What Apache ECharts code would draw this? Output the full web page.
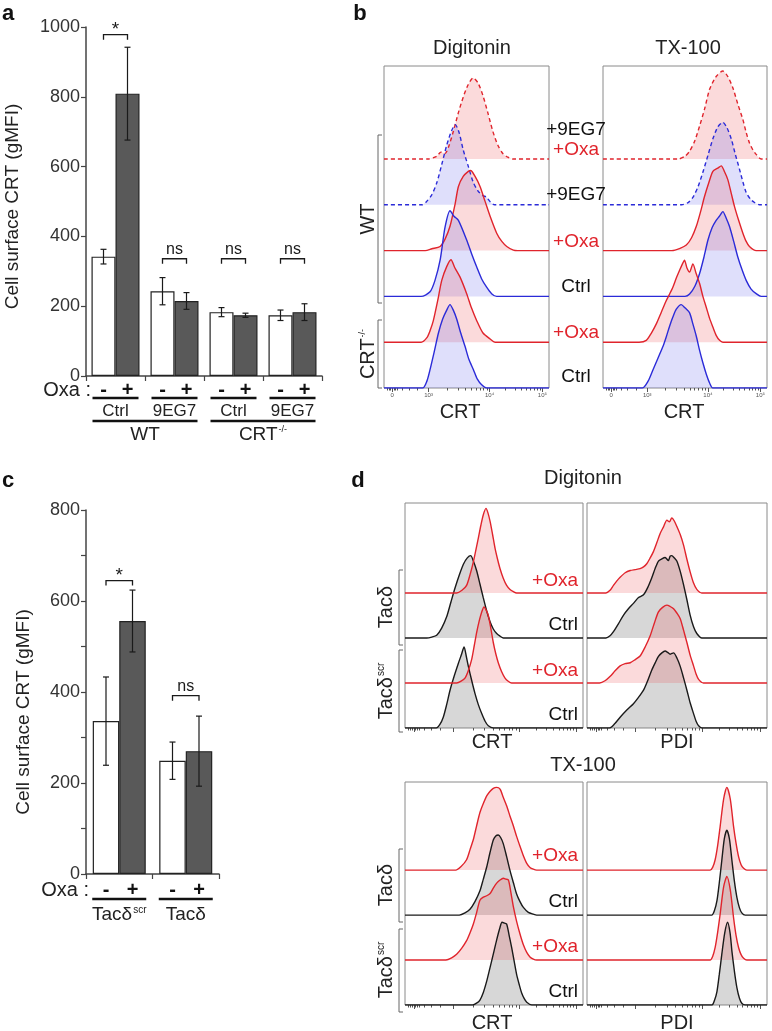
<!DOCTYPE html>
<html><head><meta charset="utf-8">
<script src="https://cdn.jsdelivr.net/npm/echarts@6/dist/echarts.min.js"></script>
<style>html,body{margin:0;padding:0;background:#fff}#c{width:772px;height:1031px}</style>
</head><body><div id="c"></div>
<script>
// ================= DATA =================
// Panel a : Cell surface CRT (gMFI)
const aGroups = ['Ctrl', '9EG7', 'Ctrl', '9EG7'];
const aGenotypes = ['WT', 'CRT-/-'];
const aGenotypeSpans = [[0, 1], [2, 3]];
const aOxaNeg = [342, 243, 183, 174];
const aOxaNegErr = [21, 39, 13, 15];
const aOxaPos = [809, 215, 174, 183];
const aOxaPosErr = [133, 24, 6, 24];
const aSigLabels = ['*', 'ns', 'ns', 'ns'];
const aSigLevels = [978, 336, 336, 336];

// Panel c
const cGroups = ['Tacδscr', 'Tacδ'];
const cOxaNeg = [336, 249];
const cOxaNegErr = [97, 41];
const cOxaPos = [556, 270];
const cOxaPosErr = [68, 77];
const cSigLabels = ['*', 'ns'];
const cSigLevels = [645, 392];

// Flow axis ticks (biexponential channel scale 0..1000)
const fcsMajorTicks = [50, 270, 640, 960];
const fcsTickLabels = ['0', '10³', '10⁴', '10⁵'];
const fcsMinorTicks = [20, 30, 40, 60, 70, 80, 110, 150, 200, 381, 447, 493, 529, 558, 583, 604, 623, 736, 793, 833, 864, 889, 910, 929, 945];

// Panel b histograms: [channel, height in lane units]
const bDig_WT9EG7_Oxa = [[0,0],[270,0],[320,0.06],[345,0.15],[370,0.12],[390,0.25],[420,0.6],[450,1.0],[480,1.35],[510,1.62],[540,1.77],[570,1.66],[600,1.38],[630,1.0],[660,0.6],[690,0.3],[720,0.12],[750,0.04],[780,0],[1000,0]];
const bDig_WT9EG7_Ctrl = [[0,0],[230,0],[260,0.08],[290,0.22],[320,0.48],[350,0.88],[380,1.3],[410,1.62],[432,1.75],[455,1.58],[480,1.2],[510,0.85],[540,0.5],[570,0.3],[600,0.2],[620,0.17],[645,0.06],[670,0],[1000,0]];
const bDig_WT_Oxa = [[0,0],[250,0],[290,0.04],[340,0.09],[370,0.25],[400,0.53],[430,1.0],[451,1.4],[480,1.62],[511,1.73],[525,1.75],[552,1.62],[582,1.4],[612,1.08],[643,0.75],[683,0.38],[714,0.2],[744,0.09],[784,0.01],[810,0],[1000,0]];
const bDig_WT_Ctrl = [[0,0],[225,0],[279,0.1],[309,0.35],[340,0.79],[370,1.51],[400,1.87],[424,1.75],[451,1.66],[501,1.23],[532,0.92],[562,0.64],[592,0.38],[622,0.2],[652,0.06],[683,0],[1000,0]];
const bDig_KO_Oxa = [[0,0],[225,0],[260,0.1],[279,0.25],[299,0.47],[325,0.9],[350,1.35],[380,1.65],[406,1.8],[430,1.62],[461,1.42],[501,1.06],[530,0.75],[562,0.47],[600,0.2],[643,0.07],[673,0],[1000,0]];
const bDig_KO_Ctrl = [[0,0],[235,0],[260,0.15],[279,0.4],[305,0.8],[330,1.2],[355,1.5],[380,1.7],[400,1.82],[420,1.7],[441,1.5],[465,1.2],[491,0.91],[515,0.62],[542,0.4],[565,0.2],[592,0.07],[622,0],[1000,0]];

const bTX_WT9EG7_Oxa = [[0,0],[460,0],[500,0.06],[528,0.17],[560,0.4],[589,0.72],[620,1.1],[650,1.52],[690,1.8],[731,1.92],[761,1.8],[792,1.55],[822,1.2],[853,0.86],[873,0.58],[893,0.35],[914,0.2],[934,0.1],[964,0],[1000,0]];
const bTX_WT9EG7_Ctrl = [[0,0],[480,0],[520,0.05],[548,0.16],[580,0.4],[609,0.71],[640,1.08],[670,1.44],[700,1.7],[731,1.8],[756,1.68],[782,1.44],[807,1.1],[832,0.78],[853,0.5],[873,0.27],[900,0.12],[924,0.05],[954,0],[1000,0]];
const bTX_WT_Oxa = [[0,0],[420,0],[470,0.05],[508,0.12],[540,0.28],[569,0.53],[595,0.85],[619,1.18],[645,1.48],[670,1.73],[700,1.8],[721,1.85],[741,1.72],[761,1.55],[782,1.25],[802,0.96],[828,0.65],[853,0.38],[873,0.2],[893,0.09],[934,0],[1000,0]];
const bTX_WT_Ctrl = [[0,0],[500,0],[528,0.05],[560,0.22],[589,0.5],[615,0.85],[640,1.23],[665,1.5],[690,1.66],[710,1.75],[731,1.85],[752,1.7],[772,1.52],[797,1.2],[822,0.86],[848,0.58],[873,0.35],[903,0.16],[934,0.06],[964,0],[1000,0]];
const bTX_KO_Oxa = [[0,0],[220,0],[264,0.04],[295,0.2],[325,0.4],[355,0.65],[386,0.91],[406,1.05],[426,1.2],[447,1.4],[467,1.57],[483,1.7],[497,1.79],[512,1.62],[528,1.53],[548,1.71],[568,1.5],[589,1.28],[609,1.0],[629,0.77],[650,0.52],[670,0.33],[690,0.15],[711,0.04],[731,0],[1000,0]];
const bTX_KO_Ctrl = [[0,0],[240,0],[275,0.15],[305,0.4],[335,0.65],[366,0.91],[386,1.12],[406,1.35],[426,1.55],[447,1.72],[477,1.82],[500,1.75],[528,1.64],[548,1.4],[569,1.13],[589,0.82],[609,0.55],[630,0.3],[650,0.11],[670,0],[1000,0]];

// Panel d histograms
const dDigCRT_Tac_Oxa = [[0,0],[290,0],[320,0.06],[346,0.17],[365,0.4],[384,0.69],[412,1.22],[426,1.5],[440,1.74],[455,1.88],[466,1.78],[478,1.59],[492,1.3],[506,0.99],[520,0.75],[534,0.54],[552,0.33],[571,0.17],[590,0.08],[609,0.03],[627,0],[1000,0]];
const dDigCRT_Tac_Ctrl = [[0,0],[122,0],[150,0.02],[178,0.06],[206,0.22],[234,0.47],[258,0.8],[281,1.11],[305,1.4],[328,1.64],[350,1.78],[369,1.83],[385,1.7],[403,1.49],[421,1.2],[440,0.89],[459,0.6],[478,0.36],[496,0.2],[515,0.1],[534,0.04],[553,0],[1000,0]];
const dDigCRT_Scr_Oxa = [[0,0],[290,0],[315,0.04],[337,0.11],[356,0.28],[375,0.53],[390,0.85],[403,1.13],[417,1.38],[431,1.58],[444,1.69],[456,1.62],[468,1.5],[482,1.22],[496,0.9],[510,0.65],[524,0.45],[543,0.25],[562,0.11],[580,0.04],[599,0],[1000,0]];
const dDigCRT_Scr_Ctrl = [[0,0],[175,0],[196,0.08],[215,0.24],[234,0.52],[253,0.84],[276,1.15],[300,1.44],[316,1.62],[332,1.8],[344,1.6],[356,1.37],[375,1.05],[393,0.77],[412,0.52],[431,0.32],[450,0.15],[468,0.05],[496,0],[1000,0]];

const dDigPDI_Tac_Oxa = [[0,0],[105,0],[128,0.06],[147,0.17],[166,0.27],[184,0.35],[212,0.45],[240,0.5],[268,0.52],[295,0.54],[314,0.58],[332,0.65],[351,0.78],[369,0.92],[388,1.12],[407,1.33],[425,1.47],[444,1.62],[458,1.58],[471,1.67],[485,1.6],[499,1.48],[518,1.3],[536,1.07],[555,0.75],[573,0.47],[592,0.22],[610,0.08],[638,0],[1000,0]];
const dDigPDI_Tac_Ctrl = [[0,0],[105,0],[128,0.05],[147,0.14],[175,0.32],[203,0.51],[230,0.65],[258,0.77],[286,0.9],[314,0.96],[337,1.12],[360,1.34],[379,1.55],[397,1.71],[416,1.76],[434,1.79],[452,1.72],[462,1.82],[471,1.83],[485,1.78],[499,1.71],[518,1.48],[536,1.19],[555,0.85],[573,0.51],[592,0.25],[610,0.1],[638,0],[1000,0]];
const dDigPDI_Scr_Oxa = [[0,0],[70,0],[100,0.05],[129,0.15],[156,0.27],[184,0.38],[212,0.43],[240,0.45],[268,0.52],[295,0.6],[323,0.8],[351,1.05],[374,1.33],[397,1.58],[420,1.68],[444,1.73],[462,1.7],[481,1.65],[500,1.55],[518,1.43],[536,1.18],[555,0.9],[573,0.62],[592,0.38],[606,0.2],[620,0.08],[647,0],[1000,0]];
const dDigPDI_Scr_Ctrl = [[0,0],[125,0],[155,0.1],[184,0.24],[221,0.4],[258,0.54],[286,0.68],[314,0.84],[337,1.05],[360,1.29],[379,1.45],[397,1.59],[416,1.67],[434,1.71],[448,1.68],[462,1.64],[481,1.67],[500,1.55],[518,1.37],[536,1.12],[555,0.84],[573,0.56],[592,0.32],[606,0.15],[620,0.05],[638,0],[1000,0]];

const dTxCRT_Tac_Oxa = [[0,0],[285,0],[315,0.08],[346,0.23],[365,0.45],[384,0.68],[402,0.98],[421,1.28],[440,1.48],[459,1.65],[477,1.75],[496,1.82],[515,1.84],[534,1.8],[552,1.62],[571,1.43],[590,1.2],[609,0.98],[627,0.75],[646,0.53],[665,0.32],[684,0.15],[702,0.06],[721,0.02],[740,0],[1000,0]];
const dTxCRT_Tac_Ctrl = [[0,0],[305,0],[337,0.05],[365,0.13],[393,0.3],[421,0.54],[440,0.8],[459,1.07],[477,1.38],[496,1.67],[510,1.76],[524,1.78],[538,1.72],[552,1.59],[571,1.3],[590,0.99],[609,0.72],[627,0.47],[646,0.3],[665,0.17],[693,0.06],[721,0.02],[740,0],[1000,0]];
const dTxCRT_Scr_Oxa = [[0,0],[230,0],[262,0.05],[290,0.13],[318,0.26],[346,0.43],[365,0.6],[384,0.8],[402,1.05],[421,1.33],[440,1.4],[459,1.43],[478,1.48],[496,1.6],[515,1.71],[534,1.78],[552,1.82],[567,1.8],[581,1.78],[595,1.5],[609,1.18],[627,0.86],[646,0.58],[665,0.34],[684,0.17],[702,0.07],[721,0.02],[740,0],[1000,0]];
const dTxCRT_Scr_Ctrl = [[0,0],[380,0],[402,0.04],[421,0.11],[440,0.28],[459,0.53],[477,0.82],[496,1.13],[515,1.45],[534,1.73],[545,1.84],[560,1.82],[571,1.8],[585,1.55],[599,1.28],[613,0.98],[627,0.68],[642,0.45],[656,0.26],[670,0.14],[684,0.06],[712,0],[1000,0]];

const dTxPDI_Tac_Oxa = [[0,0],[684,0],[698,0.06],[712,0.23],[726,0.55],[740,0.98],[759,1.58],[777,1.84],[796,1.58],[814,0.98],[828,0.6],[842,0.3],[856,0.12],[870,0.04],[888,0],[1000,0]];
const dTxPDI_Tac_Ctrl = [[0,0],[693,0],[708,0.1],[722,0.32],[735,0.72],[749,1.22],[763,1.7],[777,1.89],[791,1.7],[805,1.22],[819,0.75],[833,0.39],[847,0.16],[860,0.05],[879,0],[1000,0]];
const dTxPDI_Scr_Oxa = [[0,0],[684,0],[698,0.08],[712,0.28],[726,0.62],[740,1.03],[759,1.63],[777,1.86],[796,1.56],[814,0.95],[828,0.55],[842,0.28],[856,0.12],[870,0.04],[888,0],[1000,0]];
const dTxPDI_Scr_Ctrl = [[0,0],[694,0],[708,0.1],[722,0.3],[735,0.68],[749,1.13],[765,1.6],[781,1.84],[795,1.6],[805,1.2],[819,0.75],[833,0.38],[847,0.15],[860,0.04],[879,0],[1000,0]];

// Text labels
const bRowLabels = ['+9EG7', '+Oxa', '+9EG7', '+Oxa', 'Ctrl', '+Oxa', 'Ctrl'];
const dRowLabels = ['+Oxa', 'Ctrl', '+Oxa', 'Ctrl'];

// ================= STYLE / LAYOUT =================
const FONT = '"Liberation Sans", Arial, Helvetica, sans-serif';
const LINE = { red: '#e0242c', blue: '#2b2bd8', black: '#1a1a1a' };
const FILL = { red: 'rgba(236,80,85,0.30)', blue: 'rgba(90,90,235,0.28)', black: 'rgba(120,120,120,0.42)' };
const TXT = { red: '#e0242c', black: '#111' };

const grids = [
  { left: 86, top: 27, width: 236, height: 349 },   // 0 a
  { left: 86, top: 510, width: 133, height: 364 },  // 1 c
  { left: 384, top: 66, width: 165, height: 322 },  // 2 b digitonin
  { left: 603, top: 66, width: 164, height: 322 },  // 3 b tx-100
  { left: 405, top: 503, width: 178, height: 225 }, // 4 d dig CRT
  { left: 587, top: 503, width: 180, height: 225 }, // 5 d dig PDI
  { left: 405, top: 782, width: 178, height: 223 }, // 6 d tx CRT
  { left: 587, top: 782, width: 180, height: 223 }  // 7 d tx PDI
];
const laneMax = [0, 0, 7.03, 7.03, 5, 5, 4.96, 4.96];

const histPanels = [
  { g: 2, labels: true, curves: [
    { pts: bDig_WT9EG7_Oxa, lane: 5, c: 'red', dash: true },
    { pts: bDig_WT9EG7_Ctrl, lane: 4, c: 'blue', dash: true },
    { pts: bDig_WT_Oxa, lane: 3, c: 'red' },
    { pts: bDig_WT_Ctrl, lane: 2, c: 'blue' },
    { pts: bDig_KO_Oxa, lane: 1, c: 'red' },
    { pts: bDig_KO_Ctrl, lane: 0, c: 'blue' }] },
  { g: 3, labels: true, curves: [
    { pts: bTX_WT9EG7_Oxa, lane: 5, c: 'red', dash: true },
    { pts: bTX_WT9EG7_Ctrl, lane: 4, c: 'blue', dash: true },
    { pts: bTX_WT_Oxa, lane: 3, c: 'red' },
    { pts: bTX_WT_Ctrl, lane: 2, c: 'blue' },
    { pts: bTX_KO_Oxa, lane: 1, c: 'red' },
    { pts: bTX_KO_Ctrl, lane: 0, c: 'blue' }] },
  { g: 4, labels: false, curves: [
    { pts: dDigCRT_Tac_Ctrl, lane: 2, c: 'black' },
    { pts: dDigCRT_Tac_Oxa, lane: 3, c: 'red' },
    { pts: dDigCRT_Scr_Ctrl, lane: 0, c: 'black' },
    { pts: dDigCRT_Scr_Oxa, lane: 1, c: 'red' }] },
  { g: 5, labels: false, curves: [
    { pts: dDigPDI_Tac_Ctrl, lane: 2, c: 'black' },
    { pts: dDigPDI_Tac_Oxa, lane: 3, c: 'red' },
    { pts: dDigPDI_Scr_Ctrl, lane: 0, c: 'black' },
    { pts: dDigPDI_Scr_Oxa, lane: 1, c: 'red' }] },
  { g: 6, labels: false, curves: [
    { pts: dTxCRT_Tac_Ctrl, lane: 2, c: 'black' },
    { pts: dTxCRT_Tac_Oxa, lane: 3, c: 'red' },
    { pts: dTxCRT_Scr_Ctrl, lane: 0, c: 'black' },
    { pts: dTxCRT_Scr_Oxa, lane: 1, c: 'red' }] },
  { g: 7, labels: false, curves: [
    { pts: dTxPDI_Tac_Ctrl, lane: 2, c: 'black' },
    { pts: dTxPDI_Tac_Oxa, lane: 3, c: 'red' },
    { pts: dTxPDI_Scr_Ctrl, lane: 0, c: 'black' },
    { pts: dTxPDI_Scr_Oxa, lane: 1, c: 'red' }] }
];

// ================= BUILD =================
const xAxes = [], yAxes = [], series = [];

function barAxes(gi, cats, max, interval, labelEvery) {
  xAxes[gi] = { type: 'category', gridIndex: gi, data: cats, boundaryGap: true,
    axisLine: { show: true, lineStyle: { color: '#444', width: 1.5 } },
    axisTick: { show: true, length: 5, lineStyle: { color: '#444', width: 1.2 } },
    axisLabel: { show: false }, splitLine: { show: false } };
  yAxes[gi] = { type: 'value', gridIndex: gi, min: 0, max: max, interval: interval,
    axisLine: { show: true, lineStyle: { color: '#444', width: 1.5 } },
    axisTick: { show: true, length: 5, lineStyle: { color: '#444', width: 1.2 } },
    axisLabel: { fontFamily: FONT, fontSize: 18, color: '#333', margin: 6,
      formatter: v => (v % labelEvery === 0 ? String(v) : '') },
    splitLine: { show: false },
    name: 'Cell surface CRT (gMFI)', nameLocation: 'middle', nameGap: gi === 0 ? 64 : 53,
    nameTextStyle: { fontFamily: FONT, fontSize: 19, color: '#222', padding: gi === 0 ? [0, 10, 0, 0] : [0, 40, 0, 0] } };
}

function barPanel(gi, neg, negErr, pos, posErr, barW, sigLabels, sigLevels, groups, lineHalf, dySign, dyLine, dyLab) {
  const half = barW / 2;
  series.push({ type: 'bar', xAxisIndex: gi, yAxisIndex: gi, data: neg, barWidth: barW, barGap: '0%',
    itemStyle: { color: '#ffffff', borderColor: '#222', borderWidth: 1.2 }, silent: true, z: 2 });
  series.push({ type: 'bar', xAxisIndex: gi, yAxisIndex: gi, data: pos, barWidth: barW, barGap: '0%',
    itemStyle: { color: '#595959', borderColor: '#222', borderWidth: 1.2 }, silent: true, z: 2 });
  const errSeries = (vals, errs, side) => ({
    type: 'custom', xAxisIndex: gi, yAxisIndex: gi, silent: true, clip: false, z: 5,
    data: vals.map((m, i) => [i, m, errs[i]]),
    renderItem(params, api) {
      const i = api.value(0), m = api.value(1), e = api.value(2);
      const x = api.coord([i, m])[0] + side * half;
      const yt = api.coord([i, m + e])[1], yb = api.coord([i, m - e])[1];
      const st = { stroke: '#1a1a1a', lineWidth: 1.2 };
      return { type: 'group', children: [
        { type: 'line', shape: { x1: x, y1: yt, x2: x, y2: yb }, style: st },
        { type: 'line', shape: { x1: x - 3, y1: yt, x2: x + 3, y2: yt }, style: st },
        { type: 'line', shape: { x1: x - 3, y1: yb, x2: x + 3, y2: yb }, style: st }] };
    } });
  series.push(errSeries(neg, negErr, -1));
  series.push(errSeries(pos, posErr, 1));
  // significance brackets
  series.push({ type: 'custom', xAxisIndex: gi, yAxisIndex: gi, silent: true, clip: false, z: 6,
    data: sigLevels.map((lv, i) => [i, lv]),
    renderItem(params, api) {
      const p = api.coord([api.value(0), api.value(1)]);
      const lab = sigLabels[params.dataIndex];
      const x1 = p[0] - half, x2 = p[0] + half, y = p[1];
      return { type: 'group', children: [
        { type: 'polyline', shape: { points: [[x1, y + 5], [x1, y], [x2, y], [x2, y + 5]] },
          style: { stroke: '#1a1a1a', lineWidth: 1.3, fill: null } },
        { type: 'text', x: p[0], y: lab === '*' ? y + 5 : y - 1,
          style: { text: lab, fontFamily: FONT, fontSize: lab === '*' ? 19 : 16, fill: '#1a1a1a',
            align: 'center', verticalAlign: 'bottom' } }] };
    } });
  // Oxa -/+ row, underlines, group labels
  series.push({ type: 'custom', xAxisIndex: gi, yAxisIndex: gi, silent: true, clip: false, z: 6,
    data: groups.map((g, i) => [i, 0]),
    renderItem(params, api) {
      const p = api.coord([api.value(0), 0]);
      const cx = p[0], y0 = p[1];
      const name = groups[params.dataIndex];
      const rich = name.endsWith('scr')
        ? { text: '{n|' + name.slice(0, -3) + '}{s|scr}' } : { text: '{n|' + name + '}' };
      return { type: 'group', children: [
        { type: 'text', x: cx - half, y: y0 + dySign, style: { text: '-', fontFamily: FONT, fontSize: 20, fontWeight: 'bold', fill: '#111', align: 'center', verticalAlign: 'middle' } },
        { type: 'text', x: cx + half, y: y0 + dySign, style: { text: '+', fontFamily: FONT, fontSize: 20, fontWeight: 'bold', fill: '#111', align: 'center', verticalAlign: 'middle' } },
        { type: 'rect', shape: { x: cx - lineHalf, y: y0 + dyLine - 1.3, width: 2 * lineHalf, height: 2.6 }, style: { fill: '#111' } },
        { type: 'text', x: cx, y: y0 + dyLab, style: { text: rich.text, fontFamily: FONT, fill: '#222', align: 'center', verticalAlign: 'middle',
          rich: { n: { fontFamily: FONT, fontSize: gi === 0 ? 17 : 19, fill: '#222' },
                  s: { fontFamily: FONT, fontSize: 10, fill: '#222', verticalAlign: 'top', padding: [0, 0, 9, 1] } } } }] };
    } });
}

barAxes(0, aGroups, 1000, 200, 200);
barAxes(1, cGroups, 800, 100, 200);
barPanel(0, aOxaNeg, aOxaNegErr, aOxaPos, aOxaPosErr, 24, aSigLabels, aSigLevels, aGroups, 23, 14, 22, 35);
barPanel(1, cOxaNeg, cOxaNegErr, cOxaPos, cOxaPosErr, 26.5, cSigLabels, cSigLevels, cGroups, 27, 16, 25, 41);

// genotype underline + labels for panel a
series.push({ type: 'custom', xAxisIndex: 0, yAxisIndex: 0, silent: true, clip: false, z: 6,
  data: aGenotypeSpans.map(s => [s[0], s[1]]),
  renderItem(params, api) {
    const a = api.coord([api.value(0), 0]), b = api.coord([api.value(1), 0]);
    const y0 = a[1];
    const name = aGenotypes[params.dataIndex];
    const txt = name === 'CRT-/-' ? '{n|CRT}{s|-/-}' : '{n|' + name + '}';
    return { type: 'group', children: [
      { type: 'rect', shape: { x: a[0] - 23, y: y0 + 45 - 1.3, width: b[0] - a[0] + 46, height: 2.6 }, style: { fill: '#111' } },
      { type: 'text', x: (a[0] + b[0]) / 2, y: y0 + 59, style: { text: txt, align: 'center', verticalAlign: 'middle',
        rich: { n: { fontFamily: FONT, fontSize: 19, fill: '#222' }, s: { fontFamily: FONT, fontSize: 9, fill: '#222', verticalAlign: 'top', padding: [0, 0, 9, 1] } } } }] };
  } });

// Histogram axes + series
const minorAxes = [];
histPanels.forEach(panel => {
  const g = panel.g;
  xAxes[g] = { type: 'value', gridIndex: g, min: 0, max: 1000,
    axisLine: { show: false }, splitLine: { show: false },
    axisTick: { show: true, length: 4, customValues: fcsMajorTicks, lineStyle: { color: '#555', width: 1 } },
    axisLabel: panel.labels
      ? { show: true, customValues: fcsMajorTicks, fontFamily: FONT, fontSize: 6, color: '#555', margin: 4,
          formatter: v => fcsTickLabels[fcsMajorTicks.indexOf(v)] }
      : { show: false } };
  minorAxes.push({ type: 'value', gridIndex: g, min: 0, max: 1000, position: 'bottom',
    axisLine: { show: false }, splitLine: { show: false }, axisLabel: { show: false },
    axisTick: { show: true, length: 2.5, customValues: fcsMinorTicks, lineStyle: { color: '#555', width: 1 } } });
  yAxes[g] = { type: 'value', gridIndex: g, min: 0, max: laneMax[g], show: false };
  panel.curves.forEach(cv => {
    series.push({ type: 'line', xAxisIndex: g, yAxisIndex: g, silent: true, symbol: 'none', showSymbol: false,
      smooth: 0.25, z: 3,
      data: cv.pts.map(p => [p[0], cv.lane + p[1]]),
      lineStyle: { color: LINE[cv.c], width: 1.4, type: cv.dash ? [4, 3] : 'solid' },
      areaStyle: { color: FILL[cv.c], origin: cv.lane } });
  });
});
minorAxes.forEach(a => xAxes.push(a));

// ================= GRAPHIC TEXT =================
const T = (x, y, text, size, color, extra) => Object.assign({ type: 'text', x: x, y: y, silent: true,
  style: { text: text, fontFamily: FONT, fontSize: size, fill: color || '#222', align: 'center', verticalAlign: 'middle' } }, extra || {});
const graphics = [];
// panel letters
[['a', 8, 14], ['b', 360, 14], ['c', 8, 481], ['d', 358, 481]].forEach(l =>
  graphics.push(T(l[1], l[2], l[0], 22, '#111', { style: { text: l[0], fontFamily: FONT, fontSize: 22, fontWeight: 'bold', fill: '#111', align: 'center', verticalAlign: 'middle' } })));
// Oxa labels
graphics.push({ type: 'text', x: 91, y: 390, silent: true, style: { text: 'Oxa :', fontFamily: FONT, fontSize: 20, fill: '#222', align: 'right', verticalAlign: 'middle' } });
graphics.push({ type: 'text', x: 89, y: 890, silent: true, style: { text: 'Oxa :', fontFamily: FONT, fontSize: 20, fill: '#222', align: 'right', verticalAlign: 'middle' } });
// panel b titles
graphics.push(T(472, 48, 'Digitonin', 20));
graphics.push(T(688, 48, 'TX-100', 20));
graphics.push(T(460, 412, 'CRT', 20));
graphics.push(T(684, 412, 'CRT', 20));
const bRowY = [130, 150, 195, 242, 287, 333, 377];
bRowLabels.forEach((t, i) => graphics.push(T(576, bRowY[i], t, 19, t === '+Oxa' ? TXT.red : TXT.black)));
// b group brackets
const bracket = (x, y1, y2) => ({ type: 'polyline', silent: true, shape: { points: [[x + 4, y1], [x, y1], [x, y2], [x + 4, y2]] }, style: { stroke: '#666', lineWidth: 1, fill: null } });
graphics.push(bracket(378, 135, 303));
graphics.push(bracket(378, 320, 388));
graphics.push({ type: 'text', x: 368, y: 219, rotation: Math.PI / 2, silent: true, style: { text: 'WT', fontFamily: FONT, fontSize: 20, fill: '#222', align: 'center', verticalAlign: 'middle' } });
graphics.push({ type: 'text', x: 368, y: 354, rotation: Math.PI / 2, silent: true, style: { text: '{n|CRT}{s|-/-}', align: 'center', verticalAlign: 'middle',
  rich: { n: { fontFamily: FONT, fontSize: 20, fill: '#222' }, s: { fontFamily: FONT, fontSize: 9, fill: '#222', verticalAlign: 'top', padding: [0, 0, 10, 1] } } } });
// panel d titles
graphics.push(T(583, 478, 'Digitonin', 20));
graphics.push(T(583, 765, 'TX-100', 20));
graphics.push(T(492, 742, 'CRT', 20));
graphics.push(T(677, 742, 'PDI', 20));
graphics.push(T(492, 1023, 'CRT', 20));
graphics.push(T(677, 1023, 'PDI', 20));
const dRowY = [[581, 625, 671, 715], [856, 902, 947, 992]];
dRowY.forEach(ys => dRowLabels.forEach((t, i) => graphics.push({ type: 'text', x: 578, y: ys[i], silent: true,
  style: { text: t, fontFamily: FONT, fontSize: 19, fill: t === '+Oxa' ? TXT.red : TXT.black, align: 'right', verticalAlign: 'middle' } })));
const dBr = [[570, 645, 650, 732, 607, 691], [849, 922, 929, 1012, 885, 970]];
dBr.forEach(b => {
  graphics.push(bracket(399, b[0], b[1]));
  graphics.push(bracket(399, b[2], b[3]));
  graphics.push({ type: 'text', x: 386, y: b[4], rotation: Math.PI / 2, silent: true, style: { text: 'Tacδ', fontFamily: FONT, fontSize: 20, fill: '#222', align: 'center', verticalAlign: 'middle' } });
  graphics.push({ type: 'text', x: 386, y: b[5], rotation: Math.PI / 2, silent: true, style: { text: '{n|Tacδ}{s|scr}', align: 'center', verticalAlign: 'middle',
    rich: { n: { fontFamily: FONT, fontSize: 20, fill: '#222' }, s: { fontFamily: FONT, fontSize: 10, fill: '#222', verticalAlign: 'top', padding: [0, 0, 10, 1] } } } });
});

const option = {
  animation: false,
  backgroundColor: '#ffffff',
  grid: grids.map((g, i) => Object.assign({}, g, i >= 2
    ? { show: true, borderColor: '#8a8a8a', borderWidth: 1, backgroundColor: 'transparent', containLabel: false }
    : { containLabel: false })),
  xAxis: xAxes,
  yAxis: yAxes,
  series: series,
  graphic: graphics
};
const chart = echarts.init(document.getElementById('c'), null, { renderer: 'canvas' });
chart.setOption(option);
</script></body></html>
